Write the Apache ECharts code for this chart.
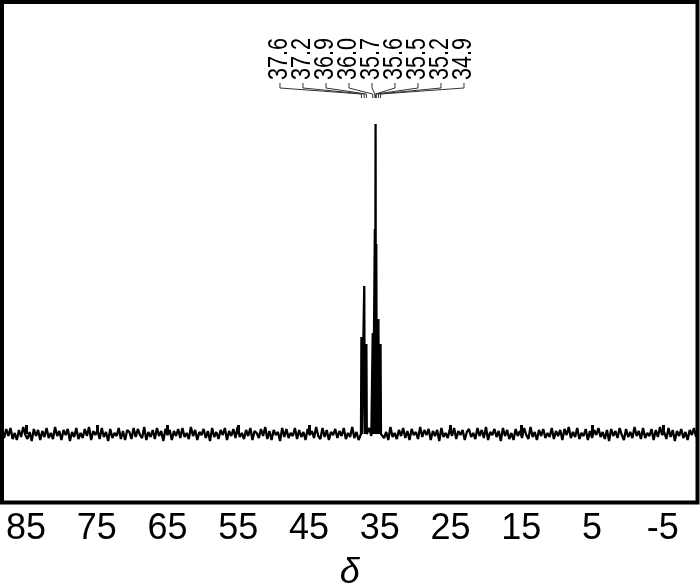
<!DOCTYPE html>
<html>
<head>
<meta charset="utf-8">
<title>Spectrum</title>
<script src="https://cdn.jsdelivr.net/npm/echarts@6.0.0/dist/echarts.min.js"></script>
<style>
  html, body { margin: 0; padding: 0; background: #fff; }
  #chart { width: 700px; height: 583px; }
</style>
</head>
<body>
<div id="chart"></div>
<script>
// tick labels on the delta axis
const tickValues = [85, 75, 65, 55, 45, 35, 25, 15, 5, -5]

// labelled peaks (ppm) and their heights above baseline
const peakPositions = [37.6, 37.2, 36.9, 36.0, 35.7, 35.6, 35.5, 35.2, 34.9]
const peakHeights = [97, 148, 90, 101, 205, 310, 190, 115, 90]

// baseline noise, sampled from 88.4 ppm down in 0.3 ppm steps
const noiseStart = 88.4
const noiseStep = 0.3
const noise = [
  3, -4, 5, -2, 6, -5, 1, -6, 4, -3, 7, -1, -5, 2, -7, 5, -2, 4, -6, 3,
  -3, 6, -4, 1, -5, 7, -2, 3, -6, 4, -1, 5, -7, 2, -3, 6, -5, 1, -4, 5,
  -2, 7, -6, 3, -1, 4, -5, 6, -3, 2, -7, 5, -4, 1, -2, 6, -5, 3, -6, 4,
  2, -5, 6, -3, 5, -1, -4, 7, -6, 2, -3, 4, -5, 6, -2, 3, -7, 5, -1, 4,
  -6, 3, -2, 5, -4, 6, -3, 1, -5, 7, -2, 4, -6, 2, -1, 5, -4, 3, -7, 6,
  -3, 2, -5, 4, -1, 6, -6, 3, -2, 5, -4, 7, -3, 1, -5, 4, -2, 6, -6, 3,
  1, -4, 5, -2, 7, -5, 3, -6, 4, -1, 2, -7, 6, -3, 5, -4, 1, -2, 6, -5,
  4, -3, 2, -6, 5, -1, 3, -4, 7, -2, -5, 6, -3, 4, -6, 2, -1, 5, -4, 3,
  -2, 6, -5, 1, -3, 7, -4, 2, -6, 5, -1, 3, -5, 6, -2, 4, -7, 3, -1, 5,
  -4, 2, -6, 7, -3, 1, -5, 4, -2, 6, -4, 3, -6, 5, -1, 2, -5, 7, -3, 4,
  -1, 5, -6, 3, -2, 4, -7, 6, -3, 1, -4, 5, -2, 6, -5, 3, -1, 4, -6, 2,
  5, -3, 1, -5, 6, -2, 4, -4, 7, -6, 2, -1, 5, -3, 3, -7, 6, -2, 4, -5,
  1, -6, 5, -2, 3, -4, 6, -1, -5, 7, -3, 2, -6, 4, -2, 5, -4, 1, -3, 6,
  -5, 3, -2, 4, -6, 5, -1, 7, -4, 2, -3, 6, -5, 1, -2, 5, -6, 3, -4, 4,
  -1, 6, -3, 2, -5, 4, -7, 5, -2, 3, -4, 6, -1, -6, 5, -3, 2, -4, 7, -2,
  3, -5, 6, -4, 1, -2, 5, -6, 4, -3, 7, -1, 2, -5, 6, -3, 4, -7, 3, -2,
  5, -4, 2, -6, 4, -1, 6, -3
]

const xMin = -9.9
const xMax = 88.4

// build spectrum points: noise, with narrow lines at each peak
function buildSpectrum() {
  const pts = []
  noise.forEach((v, i) => {
    const d = +(noiseStart - i * noiseStep).toFixed(2)
    const nearPeak = peakPositions.some(p => Math.abs(p - d) < 0.2)
    if (!nearPeak) pts.push([d, v])
  })
  peakPositions.forEach((p, i) => {
    pts.push([p + 0.06, 0])
    pts.push([p, peakHeights[i]])
    pts.push([p - 0.06, 0])
  })
  pts.sort((a, b) => b[0] - a[0])
  return pts
}

const chart = echarts.init(document.getElementById('chart'))

const labelFont = '"Liberation Sans", Arial, sans-serif'

function renderPeakLabel(params, api) {
  const n = peakPositions.length
  const first = api.coord([peakPositions[0], 0])[0]
  const last = api.coord([peakPositions[n - 1], 0])[0]
  const center = (first + last) / 2 + 1
  const slotX = center + (params.dataIndex - (n - 1) / 2) * 23
  const peakX = api.coord([api.value(0), 0])[0]
  return {
    type: 'group',
    children: [{
      type: 'text',
      x: slotX,
      y: 80,
      rotation: Math.PI / 2,
      scaleX: 0.8,
      style: {
        text: peakPositions[params.dataIndex].toFixed(1),
        fontSize: 27,
        fontFamily: labelFont,
        fill: '#000',
        align: 'left',
        verticalAlign: 'middle'
      }
    }, {
      type: 'polyline',
      shape: { points: [[slotX, 83], [slotX, 88], [peakX, 94], [peakX, 98]] },
      style: { stroke: '#333', lineWidth: 1, fill: null }
    }]
  }
}

chart.setOption({
  animation: false,
  grid: {
    left: 2,
    right: 2.5,
    top: 2,
    bottom: 80.5,
    outerBoundsMode: 'none',
    containLabel: false,
    show: true,
    borderWidth: 4,
    borderColor: '#000',
    backgroundColor: '#fff'
  },
  xAxis: {
    type: 'value',
    inverse: true,
    min: xMin,
    max: xMax,
    name: 'δ',
    nameLocation: 'middle',
    nameGap: 52,
    nameTextStyle: {
      fontSize: 36,
      fontStyle: 'italic',
      fontFamily: labelFont,
      color: '#000'
    },
    splitLine: { show: false },
    axisLine: { show: false },
    axisTick: {
      show: true,
      inside: true,
      length: 9,
      customValues: tickValues,
      lineStyle: { color: '#000', width: 3 }
    },
    axisLabel: {
      customValues: tickValues,
      margin: 9,
      fontSize: 36,
      fontFamily: labelFont,
      color: '#000'
    }
  },
  yAxis: {
    type: 'value',
    min: -68.5,
    max: 432,
    show: false
  },
  series: [{
    type: 'line',
    data: buildSpectrum(),
    showSymbol: false,
    symbol: 'none',
    lineStyle: { color: '#000', width: 2.3 },
    z: 3
  }, {
    type: 'custom',
    coordinateSystem: 'cartesian2d',
    clip: false,
    data: peakPositions.map(p => [p, 0]),
    encode: { x: 0, y: 1 },
    renderItem: renderPeakLabel,
    z: 4
  }]
})
</script>
</body>
</html>
